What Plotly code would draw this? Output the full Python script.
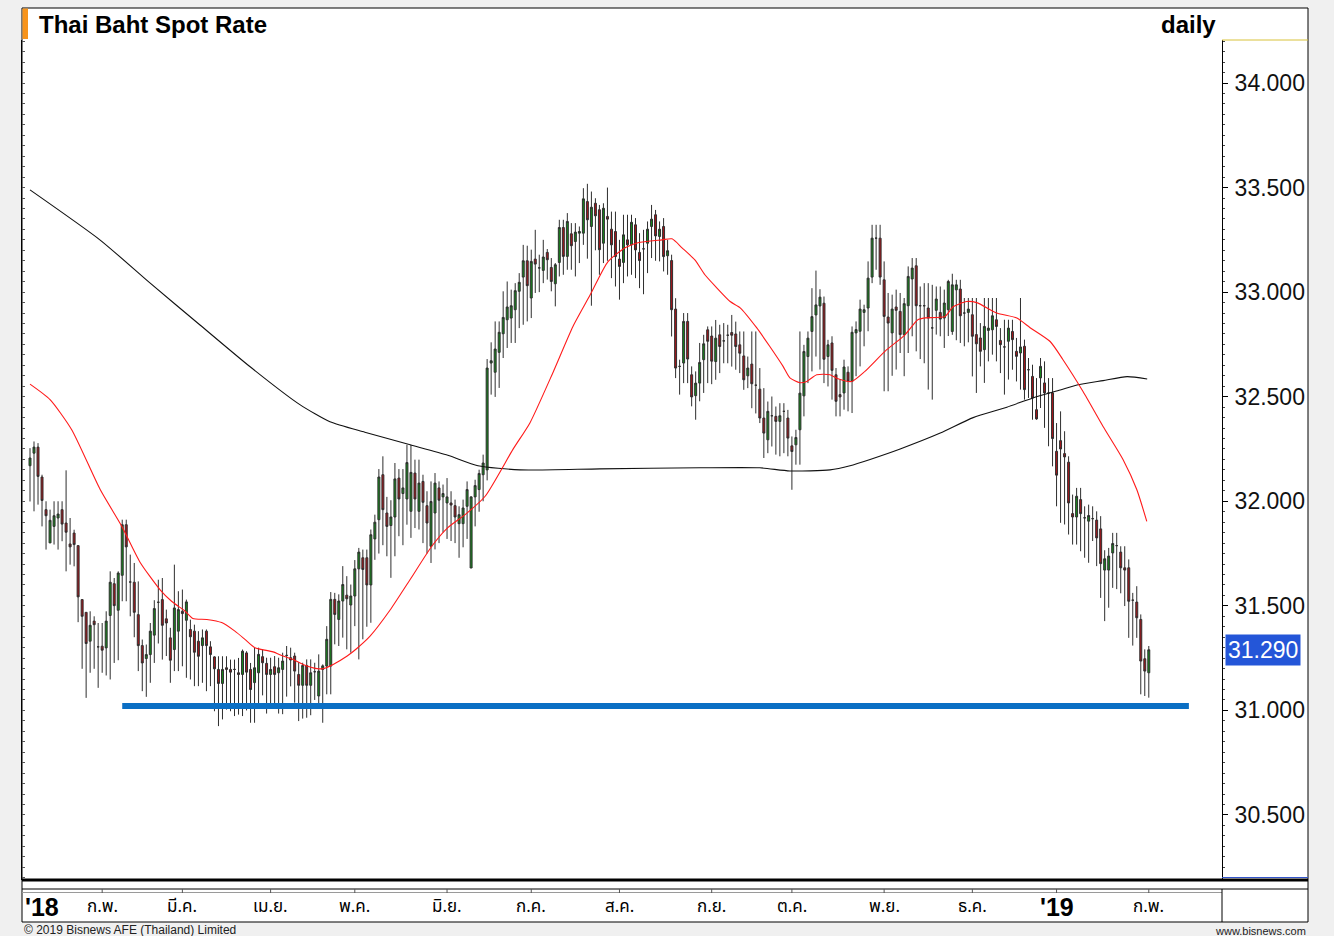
import pandas as pd
import plotly.graph_objects as go

# ---------------- data ----------------
open_ = [32.170, 32.230, 32.259, 32.116, 31.960, 31.801, 31.880, 31.920, 31.960, 31.896,
         31.796, 31.848, 31.788, 31.530, 31.469, 31.331, 31.427, 31.304, 31.307, 31.299,
         31.454, 31.606, 31.479, 31.646, 31.888, 31.614, 31.613, 31.458, 31.310, 31.248,
         31.267, 31.360, 31.517, 31.530, 31.438, 31.347, 31.291, 31.379, 31.474, 31.431,
         31.387, 31.379, 31.331, 31.310, 31.379, 31.304, 31.256, 31.196, 31.129, 31.204,
         31.196, 31.196, 31.180, 31.172, 31.275, 31.196, 31.133, 31.180, 31.257, 31.225,
         31.172, 31.209, 31.180, 31.196, 31.263, 31.252, 31.260, 31.172, 31.120, 31.215,
         31.120, 31.185, 31.069, 31.196, 31.212, 31.212, 31.531, 31.435, 31.523, 31.551,
         31.504, 31.547, 31.677, 31.730, 31.730, 31.600, 31.820, 31.912, 32.127, 31.944,
         31.884, 31.925, 32.111, 32.037, 32.011, 31.952, 32.135, 31.952, 32.095, 31.979,
         31.785, 31.944, 32.064, 32.021, 31.992, 31.992, 31.979, 31.893, 31.893, 31.976,
         31.681, 32.021, 32.056, 32.127, 32.150, 32.661, 32.617, 32.712, 32.801, 32.868,
         32.876, 32.916, 33.004, 33.072, 33.150, 32.972, 33.158, 33.116, 33.104, 33.190,
         33.118, 33.040, 33.142, 33.309, 33.171, 33.279, 33.242, 33.282, 33.282, 33.433,
         33.314, 33.425, 33.394, 33.234, 33.362, 33.301, 33.290, 33.158, 33.142, 33.250,
         33.226, 33.322, 33.190, 33.207, 33.234, 33.314, 33.370, 33.266, 33.314, 33.174,
         33.151, 32.919, 32.645, 32.661, 32.860, 32.605, 32.505, 32.565, 32.677, 32.820,
         32.790, 32.668, 32.796, 32.767, 32.794, 32.807, 32.800, 32.748, 32.695, 32.600,
         32.656, 32.555, 32.536, 32.398, 32.294, 32.409, 32.406, 32.382, 32.430, 32.398,
         32.265, 32.270, 32.342, 32.504, 32.692, 32.812, 32.891, 32.934, 32.947, 32.692,
         32.757, 32.605, 32.510, 32.518, 32.617, 32.574, 32.805, 32.813, 32.903, 32.924,
         33.072, 33.258, 33.258, 33.059, 32.881, 32.805, 32.929, 32.908, 32.797, 32.935,
         33.063, 33.126, 32.935, 32.935, 32.924, 32.829, 32.913, 32.903, 32.876, 32.916,
         32.812, 33.011, 33.015, 32.900, 32.903, 32.892, 32.797, 32.781, 32.725, 32.817,
         32.820, 32.868, 32.769, 32.738, 32.765, 32.812, 32.717, 32.709, 32.741, 32.629,
         32.597, 32.438, 32.590, 32.566, 32.518, 32.518, 32.239, 32.290, 32.228, 32.187,
         31.941, 31.925, 32.008, 31.921, 31.905, 31.917, 31.910, 31.868, 31.671, 31.671,
         31.753, 31.788, 31.757, 31.682, 31.682, 31.527, 31.518, 31.435, 31.247, 31.180]

high = [32.254, 32.286, 32.278, 32.127, 32.000, 31.960, 32.000, 32.000, 32.000, 32.148,
        31.920, 31.864, 31.788, 31.530, 31.469, 31.474, 31.450, 31.418, 31.418, 31.474,
        31.665, 31.633, 31.665, 31.912, 31.912, 31.745, 31.705, 31.617, 31.339, 31.315,
        31.418, 31.527, 31.625, 31.633, 31.482, 31.395, 31.697, 31.570, 31.578, 31.530,
        31.434, 31.410, 31.379, 31.387, 31.387, 31.331, 31.259, 31.259, 31.259, 31.259,
        31.243, 31.243, 31.251, 31.291, 31.283, 31.227, 31.300, 31.300, 31.292, 31.252,
        31.252, 31.260, 31.252, 31.276, 31.308, 31.300, 31.276, 31.231, 31.228, 31.244,
        31.244, 31.228, 31.268, 31.220, 31.403, 31.566, 31.562, 31.555, 31.690, 31.642,
        31.602, 31.719, 31.777, 31.769, 31.769, 31.865, 31.936, 32.154, 32.215, 32.021,
        32.005, 32.183, 32.154, 32.154, 32.270, 32.270, 32.199, 32.199, 32.127, 32.048,
        32.095, 32.135, 32.095, 32.080, 32.111, 32.048, 32.008, 31.976, 32.008, 32.095,
        32.024, 32.103, 32.151, 32.223, 32.680, 32.760, 32.860, 32.860, 33.004, 33.051,
        33.012, 33.043, 33.091, 33.226, 33.222, 33.203, 33.298, 33.179, 33.250, 33.206,
        33.163, 33.139, 33.346, 33.346, 33.378, 33.330, 33.330, 33.314, 33.497, 33.518,
        33.481, 33.449, 33.417, 33.425, 33.500, 33.385, 33.385, 33.250, 33.370, 33.370,
        33.370, 33.354, 33.282, 33.298, 33.338, 33.417, 33.393, 33.338, 33.354, 33.250,
        33.179, 32.971, 32.677, 32.900, 32.900, 32.645, 32.621, 32.757, 32.796, 32.836,
        32.836, 32.867, 32.844, 32.852, 32.844, 32.891, 32.859, 32.812, 32.812, 32.692,
        32.812, 32.812, 32.637, 32.541, 32.477, 32.501, 32.453, 32.469, 32.469, 32.437,
        32.310, 32.342, 32.812, 32.748, 32.812, 33.019, 33.103, 33.014, 32.979, 32.772,
        32.789, 32.637, 32.582, 32.677, 32.645, 32.836, 32.860, 32.964, 32.940, 33.147,
        33.322, 33.322, 33.322, 33.147, 32.996, 32.988, 33.012, 32.996, 32.972, 33.123,
        33.163, 33.163, 33.027, 33.043, 33.043, 33.035, 33.027, 33.027, 33.012, 33.059,
        33.088, 33.059, 33.059, 32.972, 32.972, 32.972, 32.972, 32.852, 32.972, 32.972,
        32.972, 32.972, 32.828, 32.868, 32.868, 32.868, 32.781, 32.972, 32.773, 32.685,
        32.653, 32.589, 32.685, 32.669, 32.589, 32.589, 32.374, 32.430, 32.335, 32.215,
        32.032, 32.064, 32.064, 31.976, 31.984, 31.976, 31.952, 31.929, 31.766, 31.777,
        31.849, 31.849, 31.785, 31.785, 31.722, 31.562, 31.594, 31.459, 31.292, 31.308]

low = [31.999, 31.952, 31.984, 31.880, 31.769, 31.801, 31.793, 31.769, 31.809, 31.665,
       31.697, 31.689, 31.422, 31.199, 31.060, 31.180, 31.199, 31.108, 31.180, 31.167,
       31.148, 31.227, 31.240, 31.522, 31.522, 31.450, 31.350, 31.188, 31.092, 31.065,
       31.132, 31.227, 31.320, 31.243, 31.260, 31.132, 31.188, 31.188, 31.211, 31.156,
       31.148, 31.116, 31.116, 31.132, 31.092, 31.116, 30.996, 30.925, 30.957, 31.004,
       30.996, 30.973, 30.980, 30.973, 31.000, 30.941, 30.941, 31.029, 31.072, 30.985,
       31.034, 31.021, 30.985, 30.982, 31.066, 31.115, 31.037, 30.949, 30.961, 30.965,
       30.977, 31.050, 31.029, 30.941, 31.077, 31.077, 31.316, 31.308, 31.348, 31.292,
       31.276, 31.403, 31.244, 31.340, 31.400, 31.419, 31.720, 31.750, 31.790, 31.737,
       31.634, 31.737, 31.833, 31.790, 31.888, 31.825, 31.872, 31.865, 31.800, 31.750,
       31.705, 31.770, 31.800, 31.850, 31.820, 31.810, 31.800, 31.730, 31.780, 31.820,
       31.681, 31.880, 31.950, 32.000, 32.100, 32.510, 32.499, 32.542, 32.685, 32.733,
       32.757, 32.757, 32.828, 32.844, 32.860, 32.876, 32.996, 33.000, 33.043, 33.060,
       33.004, 32.932, 33.075, 33.083, 33.107, 33.107, 33.075, 33.139, 33.226, 33.160,
       32.935, 33.200, 33.083, 33.139, 33.150, 33.067, 33.027, 32.964, 33.043, 33.075,
       33.083, 33.067, 33.019, 32.990, 33.091, 33.163, 33.150, 33.147, 33.099, 33.083,
       32.788, 32.589, 32.510, 32.565, 32.565, 32.454, 32.390, 32.478, 32.518, 32.565,
       32.560, 32.581, 32.613, 32.660, 32.660, 32.644, 32.629, 32.613, 32.533, 32.541,
       32.445, 32.420, 32.374, 32.207, 32.230, 32.262, 32.223, 32.215, 32.230, 32.215,
       32.055, 32.175, 32.175, 32.406, 32.565, 32.621, 32.692, 32.630, 32.565, 32.549,
       32.486, 32.406, 32.406, 32.438, 32.430, 32.422, 32.598, 32.645, 32.741, 32.813,
       33.043, 33.107, 33.035, 32.526, 32.526, 32.600, 32.630, 32.709, 32.598, 32.709,
       32.789, 32.717, 32.680, 32.660, 32.534, 32.486, 32.797, 32.789, 32.733, 32.790,
       32.796, 32.770, 32.757, 32.741, 32.760, 32.597, 32.518, 32.645, 32.566, 32.669,
       32.701, 32.669, 32.613, 32.510, 32.582, 32.629, 32.573, 32.534, 32.486, 32.494,
       32.390, 32.390, 32.446, 32.351, 32.263, 32.167, 31.976, 31.897, 31.889, 31.841,
       31.793, 31.793, 31.761, 31.730, 31.706, 31.810, 31.690, 31.538, 31.427, 31.491,
       31.586, 31.580, 31.560, 31.499, 31.347, 31.310, 31.347, 31.077, 31.069, 31.061]

close = [32.207, 32.259, 32.119, 32.004, 31.931, 31.909, 31.931, 31.939, 31.891, 31.852,
         31.782, 31.793, 31.543, 31.450, 31.320, 31.407, 31.410, 31.304, 31.288, 31.427,
         31.613, 31.501, 31.657, 31.888, 31.782, 31.614, 31.469, 31.310, 31.227, 31.267,
         31.379, 31.487, 31.517, 31.407, 31.418, 31.240, 31.490, 31.482, 31.463, 31.519,
         31.352, 31.278, 31.259, 31.347, 31.310, 31.267, 31.199, 31.129, 31.196, 31.196,
         31.183, 31.196, 31.172, 31.283, 31.183, 31.100, 31.204, 31.268, 31.228, 31.172,
         31.196, 31.172, 31.204, 31.236, 31.263, 31.241, 31.188, 31.120, 31.215, 31.120,
         31.180, 31.185, 31.188, 31.213, 31.340, 31.531, 31.459, 31.523, 31.602, 31.534,
         31.547, 31.677, 31.757, 31.674, 31.600, 31.840, 31.900, 32.116, 31.960, 31.880,
         31.925, 32.107, 32.011, 32.064, 32.185, 32.138, 32.011, 32.087, 31.995, 31.896,
         31.999, 32.087, 32.005, 32.037, 32.021, 31.982, 31.925, 31.936, 31.968, 32.056,
         32.021, 32.075, 32.133, 32.183, 32.637, 32.672, 32.728, 32.808, 32.879, 32.929,
         32.935, 33.007, 33.047, 33.150, 33.031, 33.147, 33.134, 33.116, 33.168, 33.155,
         33.051, 33.131, 33.309, 33.171, 33.338, 33.222, 33.287, 33.290, 33.446, 33.346,
         33.406, 33.365, 33.203, 33.401, 33.349, 33.226, 33.170, 33.123, 33.274, 33.226,
         33.334, 33.202, 33.151, 33.207, 33.301, 33.349, 33.269, 33.301, 33.170, 33.198,
         32.916, 32.637, 32.645, 32.860, 32.680, 32.499, 32.565, 32.664, 32.753, 32.765,
         32.670, 32.780, 32.740, 32.767, 32.794, 32.794, 32.740, 32.708, 32.581, 32.637,
         32.562, 32.555, 32.398, 32.326, 32.430, 32.409, 32.382, 32.409, 32.430, 32.302,
         32.238, 32.305, 32.517, 32.716, 32.780, 32.883, 32.939, 32.976, 32.679, 32.748,
         32.626, 32.478, 32.499, 32.642, 32.574, 32.808, 32.821, 32.919, 32.916, 33.067,
         33.258, 33.258, 33.072, 32.884, 32.852, 32.919, 32.913, 32.797, 32.945, 33.075,
         33.115, 32.935, 32.935, 32.935, 32.876, 32.829, 32.967, 32.871, 32.948, 33.051,
         33.035, 33.035, 32.887, 32.900, 32.919, 32.789, 32.753, 32.717, 32.836, 32.828,
         32.887, 32.836, 32.749, 32.738, 32.828, 32.773, 32.693, 32.738, 32.534, 32.629,
         32.494, 32.394, 32.645, 32.518, 32.518, 32.300, 32.125, 32.250, 32.212, 31.992,
         31.925, 32.024, 31.941, 31.921, 31.932, 31.917, 31.825, 31.702, 31.725, 31.738,
         31.798, 31.788, 31.682, 31.671, 31.522, 31.527, 31.443, 31.236, 31.188, 31.290]

# moving averages (trading-day position, value)
red_ma_pos = [0, 5, 10.4, 17.5, 22.9, 27.4, 32.4, 35.3, 38.7, 40.6, 44.1, 47.8, 51.1, 53.6,
              56.1, 60.6, 63.1, 65.6, 68.1, 71.6, 73.1, 75.6, 79.1, 81.5, 84.8, 89.8, 94.8,
              100.2, 104.2, 108.5, 113.5, 120.4, 124.7, 130.4, 135.4, 139.7, 144.1, 148.4,
              151.6, 157.6, 160.1, 162.6, 165.8, 168.3, 170.8, 174.6, 177.1, 181.2, 184.5,
              187.8, 189.5, 192.0, 193.7, 196.2, 199.5, 201.5, 204.9, 208.2, 213.2, 218.2,
              221.4, 223.2, 228.2, 230.2, 233.6, 236.1, 241.1, 246.1, 249.4, 254.4, 257.6,
              262.6, 267.6, 272.6, 276.0, 278.5]
red_ma_val = [32.560, 32.486, 32.342, 32.056, 31.880, 31.710, 31.578, 31.522, 31.474, 31.440,
              31.435, 31.420, 31.379, 31.340, 31.300, 31.280, 31.260, 31.244, 31.220, 31.200,
              31.200, 31.220, 31.260, 31.296, 31.355, 31.480, 31.626, 31.785, 31.874, 31.936,
              32.024, 32.247, 32.376, 32.615, 32.836, 32.987, 33.145, 33.212, 33.236, 33.250,
              33.255, 33.212, 33.154, 33.083, 33.030, 32.955, 32.925, 32.830, 32.740, 32.645,
              32.590, 32.567, 32.573, 32.605, 32.605, 32.586, 32.573, 32.621, 32.717, 32.796,
              32.868, 32.877, 32.884, 32.930, 32.955, 32.950, 32.900, 32.876, 32.830, 32.764,
              32.677, 32.525, 32.358, 32.199, 32.056, 31.904]

black_ma_pos = [0, 17.5, 29.9, 42.4, 54.9, 67.3, 74.8, 83.5, 94.8, 104.2, 111.7, 122.2,
                142.1, 167.1, 182.0, 189.5, 199.5, 204.5, 209.5, 217.0, 227.0, 235.2,
                243.6, 250.1, 256.9, 261.1, 267.6, 273.6, 278.6]
black_ma_val = [33.489, 33.249, 33.044, 32.843, 32.643, 32.462, 32.380, 32.330, 32.270,
                32.220, 32.170, 32.150, 32.155, 32.160, 32.160, 32.145, 32.150, 32.170,
                32.200, 32.250, 32.326, 32.400, 32.450, 32.494, 32.532, 32.556, 32.577,
                32.596, 32.585]

support_level = 31.021
support_start_pos = 23
support_end_pos = 289

month_labels = ['ก.พ.', 'มี.ค.', 'เม.ย.', 'พ.ค.', 'มิ.ย.', 'ก.ค.', 'ส.ค.',
                'ก.ย.', 'ต.ค.', 'พ.ย.', 'ธ.ค.', "'19", 'ก.พ.']

# ---------------- figure ----------------
n = len(close)
dates = pd.bdate_range('2018-01-08', periods=n)
pos = list(range(n))
month_pos = [i for i in range(1, n) if dates[i].month != dates[i - 1].month]

W, H = 1334, 936
L, R, T, B = 22, 1222, 40, 880          # plot area in pixels
PW, PH = R - L, B - T


def px(xp):
    return (xp - L) / PW


def py(yp):
    return (B - yp) / PH


fig = go.Figure()
fig.add_trace(go.Candlestick(
    x=pos, open=open_, high=high, low=low, close=close,
    increasing=dict(fillcolor='#17871C', line=dict(color='#2E2E2E', width=1)),
    decreasing=dict(fillcolor='#A5161B', line=dict(color='#2E2E2E', width=1)),
    whiskerwidth=0, hoverinfo='skip', showlegend=False))
fig.add_trace(go.Scatter(x=black_ma_pos, y=black_ma_val, mode='lines',
                         line=dict(color='#111111', width=1.1, shape='spline', smoothing=0.6),
                         hoverinfo='skip', showlegend=False))
fig.add_trace(go.Scatter(x=red_ma_pos, y=red_ma_val, mode='lines',
                         line=dict(color='#FF1A1A', width=1.1, shape='spline', smoothing=0.6),
                         hoverinfo='skip', showlegend=False))
# invisible helper so the left tick axis is drawn
fig.add_trace(go.Scatter(x=[pos[0]], y=[close[0]], yaxis='y2', mode='markers',
                         marker=dict(opacity=0), hoverinfo='skip', showlegend=False))

ymin = 34 - (B - 83) / 209.14
ymax = 34 + (83 - T) / 209.14
xmin = (L - 30) / 4.01
xmax = (R - 30) / 4.01

shapes = []
# white panel with frame
shapes.append(dict(type='rect', xref='paper', yref='paper', x0=px(22), x1=px(1308),
                   y0=py(922), y1=py(8), fillcolor='white',
                   line=dict(color='#000000', width=1), layer='below'))
# orange title marker
shapes.append(dict(type='rect', xref='paper', yref='paper', x0=px(22.5), x1=px(28),
                   y0=py(39), y1=py(8.5), fillcolor='#F7941D', line=dict(width=0)))
# thick bottom line of the price panel
shapes.append(dict(type='line', xref='paper', yref='paper', x0=px(22), x1=px(1308),
                   y0=py(880), y1=py(880), line=dict(color='#000000', width=3)))
shapes.append(dict(type='line', xref='paper', yref='paper', x0=px(22), x1=px(1308),
                   y0=py(889), y1=py(889), line=dict(color='#000000', width=1)))
shapes.append(dict(type='line', xref='paper', yref='paper', x0=px(22), x1=px(1222),
                   y0=py(892.5), y1=py(892.5), line=dict(color='#9A9A9A', width=1)))
shapes.append(dict(type='line', xref='paper', yref='paper', x0=px(1222), x1=px(1222),
                   y0=py(922), y1=py(889), line=dict(color='#000000', width=1)))
# top/bottom accents of the price scale
shapes.append(dict(type='line', xref='paper', yref='paper', x0=px(1222), x1=px(1308),
                   y0=py(40), y1=py(40), line=dict(color='#D8C23A', width=1)))
shapes.append(dict(type='line', xref='paper', yref='paper', x0=px(1222), x1=px(1308),
                   y0=py(877.5), y1=py(877.5), line=dict(color='#3355CC', width=1)))
# month ticks in the date strip
for mp in month_pos:
    shapes.append(dict(type='line', xref='x', yref='paper', x0=mp, x1=mp,
                       y0=py(889), y1=py(893), line=dict(color='#555555', width=1)))
# support line
shapes.append(dict(type='line', xref='x', yref='y', x0=support_start_pos, x1=support_end_pos,
                   y0=support_level, y1=support_level,
                   line=dict(color='#0B6FC4', width=6), layer='above'))

annotations = []
annotations.append(dict(xref='paper', yref='paper', x=px(37), y=py(24), xanchor='left',
                        yanchor='middle', text='Thai Baht Spot Rate', showarrow=False,
                        font=dict(family='Arial, Liberation Sans', size=24, color='#000000',
                                  weight='bold')))
annotations.append(dict(xref='paper', yref='paper', x=px(1218), y=py(24), xanchor='right',
                        yanchor='middle', text='daily', showarrow=False,
                        font=dict(family='Arial, Liberation Sans', size=24, color='#000000',
                                  weight='bold')))
annotations.append(dict(xref='paper', yref='paper', x=px(23), y=py(907), xanchor='left',
                        yanchor='middle', text="'18", showarrow=False,
                        font=dict(family='Arial, Liberation Sans', size=25, color='#000000',
                                  weight='bold')))
for mp, lab in zip(month_pos, month_labels):
    if lab.startswith("'"):
        f = dict(family='Arial, Liberation Sans', size=25, color='#000000', weight='bold')
    else:
        f = dict(family='Tahoma, Noto Sans Thai, Loma, Garuda, DejaVu Sans, sans-serif',
                 size=17, color='#000000')
    annotations.append(dict(xref='x', yref='paper', x=mp, y=py(907), xanchor='center',
                            yanchor='middle', text=lab, showarrow=False, font=f))
annotations.append(dict(xref='paper', yref='paper', x=px(22), y=py(930), xanchor='left',
                        yanchor='middle', text='© 2019 Bisnews AFE (Thailand) Limited',
                        showarrow=False,
                        font=dict(family='Arial, Liberation Sans', size=12, color='#222222')))
annotations.append(dict(xref='paper', yref='paper', x=px(1308), y=py(931), xanchor='right',
                        yanchor='middle', text='www.bisnews.com', showarrow=False,
                        font=dict(family='Arial, Liberation Sans', size=11, color='#222222')))
# last price badge
annotations.append(dict(xref='paper', yref='y', x=px(1225), y=close[-1], xanchor='left',
                        yanchor='middle', text=f'{close[-1]:.3f}', showarrow=False,
                        bgcolor='#2456D8', borderpad=2,
                        font=dict(family='Arial, Liberation Sans', size=23, color='#FFFFFF')))

fig.update_layout(
    width=W, height=H,
    margin=dict(l=L, r=W - R, t=T, b=H - B, pad=0),
    paper_bgcolor='#F0F0F0', plot_bgcolor='rgba(0,0,0,0)',
    showlegend=False,
    xaxis=dict(range=[xmin, xmax], visible=False, rangeslider=dict(visible=False),
               fixedrange=True),
    yaxis=dict(range=[ymin, ymax], side='right', tickmode='linear', tick0=30.5, dtick=0.5,
               tickformat='.3f', ticks='outside', ticklen=5, tickcolor='#000000',
               showline=True, linecolor='#000000', linewidth=1, showgrid=False,
               zeroline=False, ticklabelstandoff=2,
               tickfont=dict(family='Arial, Liberation Sans', size=23, color='#111111'),
               minor=dict(dtick=0.05, ticks='outside', ticklen=2, tickcolor='#444444'),
               fixedrange=True),
    yaxis2=dict(range=[ymin, ymax], overlaying='y', side='left', tickmode='linear',
                tick0=30.5, dtick=0.05, ticks='inside', ticklen=3, tickcolor='#555555',
                showticklabels=False, showline=True, linecolor='#000000', linewidth=1,
                showgrid=False, zeroline=False, fixedrange=True),
    shapes=shapes, annotations=annotations,
)

fig.write_html("out.html", config={'displayModeBar': False},
               post_script="document.body.style.margin='0';document.body.style.background='#F0F0F0';")
